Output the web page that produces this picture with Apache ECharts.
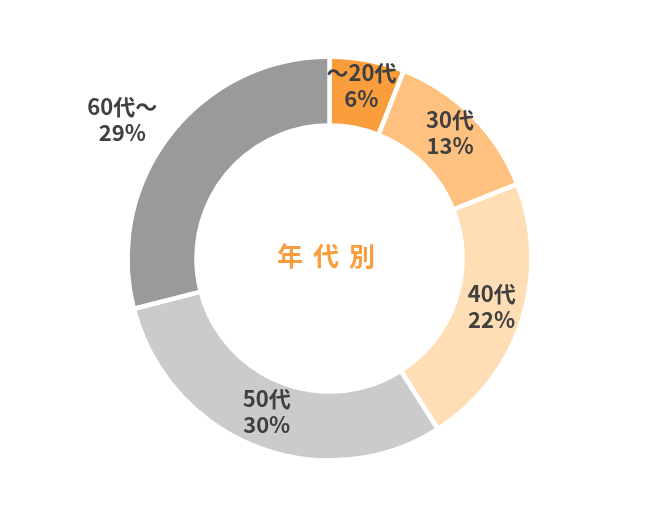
<!DOCTYPE html>
<html>
<head>
<meta charset="utf-8">
<script src="https://cdn.jsdelivr.net/npm/echarts@6/dist/echarts.min.js"></script>
<style>
html,body{margin:0;padding:0;background:#fff;}
#main{width:659px;height:517px;}
</style>
</head>
<body>
<div id="main"></div>
<script>
const categories = ['～20代', '30代', '40代', '50代', '60代～'];
const shares = [6, 13, 22, 30, 29];
const colors = ['#F99D3D', '#FFC17F', '#FFDEB5', '#CBCBCB', '#9A9A9A'];
const centerTitle = ['年', '代', '別'];

const chart = echarts.init(document.getElementById('main'));
const FONT = '"Noto Sans CJK JP", "Noto Sans", sans-serif';

const data = categories.map((name, i) => {
  const d = { name: name, value: shares[i], itemStyle: { color: colors[i] } };
  if (i === categories.length - 1) {
    d.label = { position: 'outside', distanceToLabelLine: 0 };
    d.labelLine = { show: false, length: 16, length2: 0 };
  }
  return d;
});

chart.setOption({
  animation: false,
  backgroundColor: '#ffffff',
  graphic: [{
    type: 'text',
    x: 326,
    y: 256,
    style: {
      text: centerTitle.map(c => '{a|' + c + '}').join(''),
      align: 'center',
      verticalAlign: 'middle',
      rich: {
        a: {
          fontFamily: FONT,
          fontSize: 26,
          fontWeight: 'bold',
          fill: '#F99D3D',
          padding: [0, 5]
        }
      }
    }
  }],
  series: [{
    type: 'pie',
    center: ['50%', '50%'],
    radius: [133, 202],
    startAngle: 90,
    clockwise: true,
    avoidLabelOverlap: false,
    itemStyle: { borderColor: '#ffffff', borderWidth: 4.5 },
    label: {
      show: true,
      position: 'inside',
      formatter: '{c|{b}}\n{c|{d}%}',
      fontFamily: FONT,
      fontSize: 22,
      fontWeight: 'bold',
      lineHeight: 26,
      color: '#404040',
      align: 'center',
      padding: [0, 0, 10, 0],
      rich: {
        c: {
          fontFamily: FONT,
          fontSize: 22,
          fontWeight: 'bold',
          lineHeight: 26,
          color: '#404040',
          align: 'center'
        }
      }
    },
    labelLine: { show: false },
    emphasis: { disabled: true },
    data: data
  }]
});
</script>
</body>
</html>
